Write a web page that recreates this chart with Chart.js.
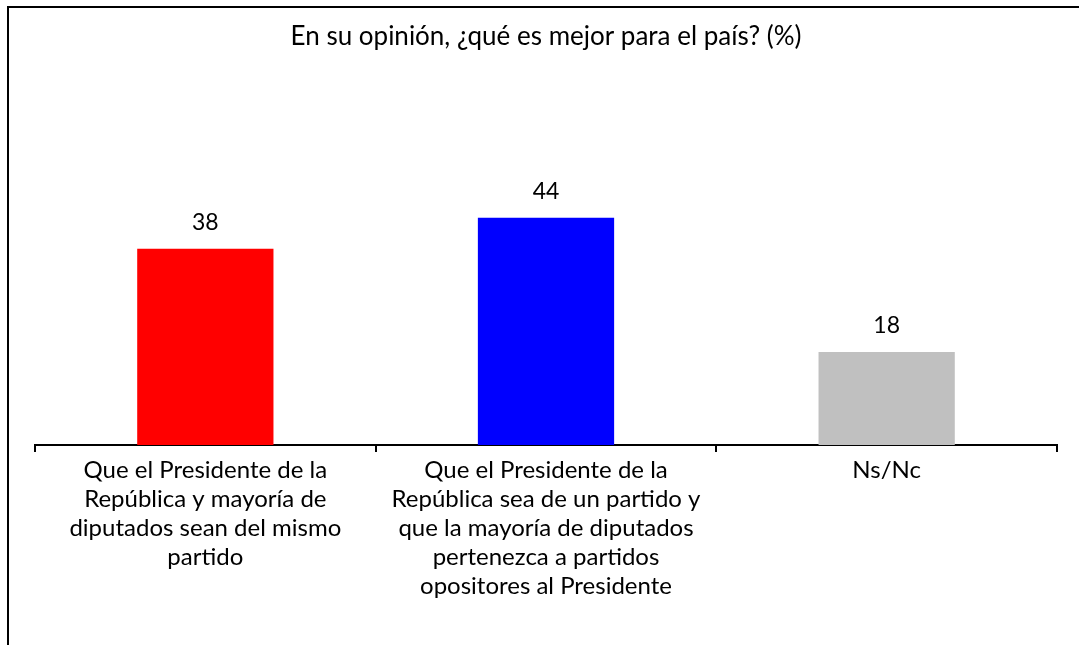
<!DOCTYPE html>
<html>
<head>
<meta charset="utf-8">
<script src="https://cdn.jsdelivr.net/npm/chart.js@4/dist/chart.umd.min.js"></script>
<style>
  html, body { margin: 0; padding: 0; background: #fff; overflow: hidden; }
  #frame { position: absolute; left: 7px; top: 6px; width: 1200px; height: 800px;
           border-left: 2px solid #000; border-top: 2px solid #000; }
  #wrap { position: absolute; left: 0; top: 0; width: 1079px; height: 645px; }
</style>
</head>
<body>
<div id="frame"></div>
<div id="wrap"><canvas id="opinionChart" width="1079" height="645"></canvas></div>
<script>
// data
var titulo = "En su opinión, ¿qué es mejor para el país? (%)";
var categorias = [
    ["Que el Presidente de la", "República y mayoría de", "diputados sean del mismo", "partido"],
    ["Que el Presidente de la", "República sea de un partido y", "que la mayoría de diputados", "pertenezca a partidos", "opositores al Presidente"],
    ["Ns/Nc"]
];
var valores = [38, 44, 18];
var colores = ["#FF0000", "#0000FF", "#C0C0C0"];

var fuente = "'Lato', 'Noto Sans', sans-serif";

// valores encima de las barras
var etiquetas = {
    id: "etiquetas",
    afterDatasetsDraw: function(chart) {
        var ctx = chart.ctx;
        var meta = chart.getDatasetMeta(0);
        ctx.save();
        ctx.fillStyle = "#000";
        ctx.font = "23px " + fuente;
        ctx.textAlign = "center";
        ctx.textBaseline = "middle";
        meta.data.forEach(function(bar, i) {
            ctx.fillText(valores[i], bar.x, bar.y - 26);
        });
        ctx.restore();
    }
};

var opinionChart = new Chart("opinionChart", {
    type: "bar",
    data: {
        labels: categorias,
        datasets: [{
            data: valores,
            backgroundColor: colores,
            borderWidth: 0,
            categoryPercentage: 1,
            barPercentage: 0.4
        }]
    },
    options: {
        responsive: false,
        animation: false,
        layout: { padding: { left: 35, right: 22, top: 0, bottom: 0 } },
        plugins: {
            legend: { display: false },
            tooltip: { enabled: false },
            title: {
                display: true,
                text: titulo,
                color: "#000",
                font: { family: fuente, size: 26, weight: "normal", lineHeight: 1.2 },
                padding: { top: 21, bottom: 83 }
            }
        },
        scales: {
            x: {
                border: { color: "#000", width: 2 },
                grid: { offset: true, drawOnChartArea: false, drawTicks: true, tickLength: 7, color: "#000", lineWidth: 2 },
                ticks: {
                    color: "#000",
                    padding: 4,
                    maxRotation: 0,
                    autoSkip: false,
                    font: { family: fuente, size: 24, lineHeight: 1.21 }
                },
                afterFit: function(scale) { scale.height = 200; }
            },
            y: {
                display: false,
                min: 0,
                max: 60
            }
        }
    },
    plugins: [etiquetas]
});
</script>
</body>
</html>
